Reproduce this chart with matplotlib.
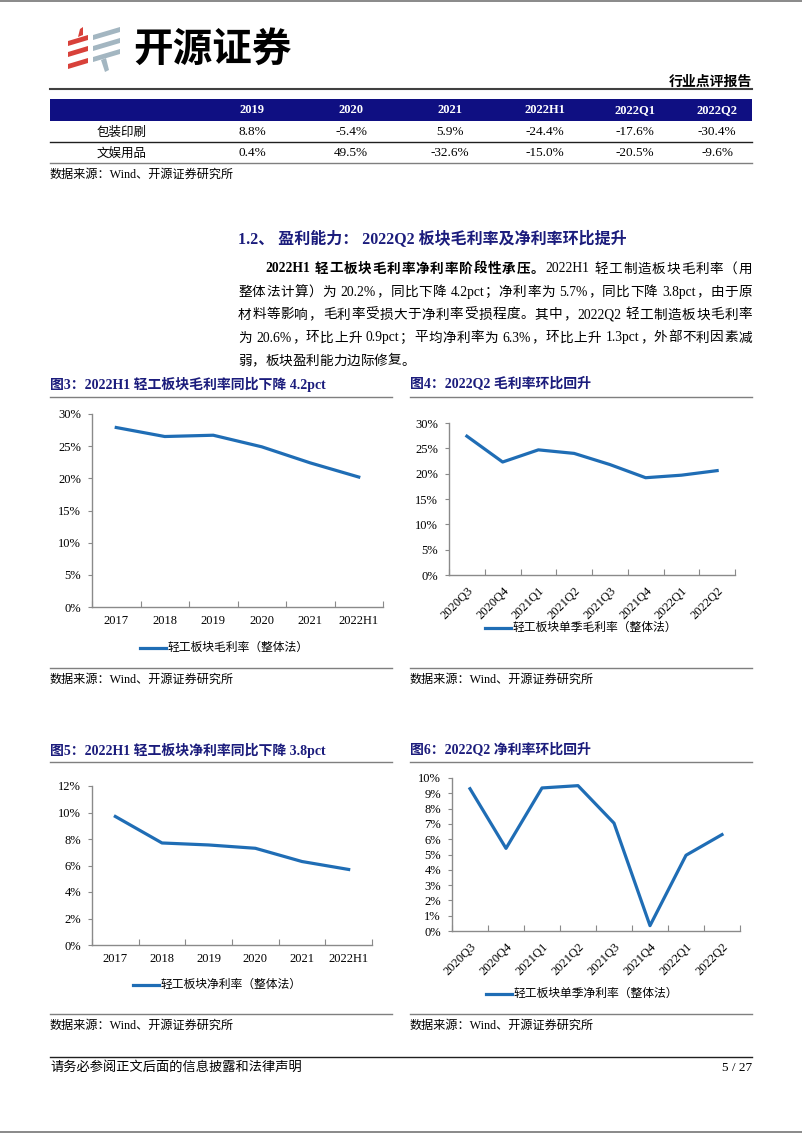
import matplotlib
matplotlib.use('Agg')
import matplotlib.pyplot as plt
from matplotlib.lines import Line2D
from matplotlib.patches import Polygon, Rectangle
from matplotlib.ticker import FuncFormatter, MultipleLocator
import numpy as np

# ---------------- data ----------------
table_cols = ['2019', '2020', '2021', '2022H1', '2022Q1', '2022Q2']
table_rows = ['包装印刷', '文娱用品']
packaging_growth = [8.8, -5.4, 5.9, -24.4, -17.6, -30.4]
stationery_growth = [0.4, 49.5, -32.6, -15.0, -20.5, -9.6]

years = ['2017', '2018', '2019', '2020', '2021', '2022H1']
quarters = ['2020Q3', '2020Q4', '2021Q1', '2021Q2', '2021Q3', '2021Q4', '2022Q1', '2022Q2']
gross_annual = [27.9, 26.5, 26.7, 24.9, 22.4, 20.2]
gross_quarter = [27.4, 22.3, 24.7, 24.0, 21.8, 19.2, 19.7, 20.6]
net_annual = [9.7, 7.7, 7.55, 7.3, 6.3, 5.7]
net_quarter = [9.3, 5.4, 9.35, 9.5, 7.05, 0.35, 4.95, 6.3]

legend_gross_annual = '轻工板块毛利率（整体法）'
legend_gross_quarter = '轻工板块单季毛利率（整体法）'
legend_net_annual = '轻工板块净利率（整体法）'
legend_net_quarter = '轻工板块单季净利率（整体法）'

# ---------------- setup ----------------
plt.rcParams['font.family'] = ['Liberation Serif', 'Noto Sans CJK SC']
W, H = 802, 1133
fig = plt.figure(figsize=(W / 100, H / 100), dpi=100)
fig.patch.set_facecolor('white')

NAVY = '#1b1c7c'
BAND = '#0f0f82'
BLUE = '#1f6db5'
GREY = '#7f7f7f'


def fx(x):
    return x / W


def fy(y):
    return 1 - y / H


def hline(x0, x1, y, color=GREY, lw=1.0):
    fig.add_artist(Line2D([fx(x0), fx(x1)], [fy(y), fy(y)], color=color, lw=lw,
                          transform=fig.transFigure))


def txt(x, y, s, size=9, color='black', ha='left', va='center', weight='normal', **kw):
    return fig.text(fx(x), fy(y), s, fontsize=size, color=color, ha=ha, va=va,
                    fontweight=weight, **kw)


# page edge lines
fig.add_artist(Rectangle((0, fy(2)), 1, 2 / H, transform=fig.transFigure, color='#8c8c8c', lw=0))
fig.add_artist(Rectangle((0, 0), 1, 2 / H, transform=fig.transFigure, color='#8c8c8c', lw=0))

# ---------------- logo ----------------
RED = '#d8413a'
LGREY = '#a3b6c1'


def poly(pts, color):
    fig.add_artist(Polygon([(fx(a), fy(b)) for a, b in pts], closed=True,
                           transform=fig.transFigure, color=color, lw=0))


def bar(xl, xr, yb, rise, thick, color):
    poly([(xl, yb), (xr, yb - rise), (xr, yb - rise - thick), (xl, yb - thick)], color)


for yb in (46, 57, 69):
    bar(68, 88, yb, 6, 5, RED)
poly([(78, 37), (83, 35), (83, 27), (80, 29)], RED)
for yb in (40, 51, 62):
    bar(93, 120, yb, 8, 5, LGREY)
poly([(101, 60), (106, 58), (109, 70), (105, 72)], LGREY)
txt(133, 49, '开源证券', size=28.5, weight='bold', family=['Noto Sans CJK SC'])

txt(752, 82, '行业点评报告', size=10, weight='bold', ha='right', family=['Noto Sans CJK SC'])
hline(50, 752, 89, color='#404040', lw=1.5)

# ---------------- table ----------------
col_x = [252, 351, 450, 545, 635, 717]
fig.add_artist(Rectangle((fx(50), fy(121)), fx(752) - fx(50), 22 / H,
                         transform=fig.transFigure, color=BAND, lw=0))
for cx, c in zip(col_x, table_cols):
    txt(cx, 110, c, size=9, color='white', weight='bold', ha='center')
rows_vals = [packaging_growth, stationery_growth]
for ry, name, vals in zip((132, 153), table_rows, rows_vals):
    txt(122, ry, name, size=9, ha='center', family=['Noto Sans CJK SC'])
    for cx, v in zip(col_x, vals):
        txt(cx, ry, f'{v:.1f}%', size=9.5, ha='center')
hline(50, 752, 142, color='#202020', lw=1.0)
hline(50, 752, 163, color=GREY, lw=1.0)
txt(50, 175, '数据来源：Wind、开源证券研究所', size=8.7)

# ---------------- section title & paragraph ----------------
txt(238, 240, '1.2、 盈利能力： 2022Q2 板块毛利率及净利率环比提升', size=11.5,
    color=NAVY, weight='bold')

renderer = fig.canvas.get_renderer()
BODY = 9.8


def tokenize(s):
    toks, buf = [], ''
    for ch in s:
        if ch == ' ':
            if buf:
                toks.append(buf)
                buf = ''
            toks.append(' ')
        elif ord(ch) < 128:
            buf += ch
        else:
            if buf:
                toks.append(buf)
                buf = ''
            toks.append(ch)
    if buf:
        toks.append(buf)
    return toks


def draw_line(segments, x0, x1, y, justify=True, size=BODY):
    em = size * 100 / 72
    items = []
    for s, wgt in segments:
        for t in tokenize(s):
            items.append((t, wgt))
    objs = []
    widths = []
    for t, wgt in items:
        if t == ' ':
            objs.append(None)
            widths.append(em * 0.25)
            continue
        o = fig.text(0, fy(y + 4.5), t, fontsize=size, fontweight=wgt, ha='left', va='baseline')
        if len(t) == 1 and ord(t) >= 128:
            w = em
        else:
            w = o.get_window_extent(renderer).width
        objs.append(o)
        widths.append(w)
    total = sum(widths)
    gap = (x1 - x0 - total) / max(len(items) - 1, 1) if justify else 0.0
    x = x0
    for o, w in zip(objs, widths):
        if o is not None:
            o.set_x(fx(x))
        x += w + gap


para = [
    ([('2022H1 轻工板块毛利率净利率阶段性承压。', 'bold'), ('2022H1 轻工制造板块毛利率（用', 'normal')], 265, True),
    ([('整体法计算）为 20.2%，同比下降 4.2pct；净利率为 5.7%，同比下降 3.8pct，由于原', 'normal')], 238, True),
    ([('材料等影响，毛利率受损大于净利率受损程度。其中，2022Q2 轻工制造板块毛利率', 'normal')], 238, True),
    ([('为 20.6%，环比上升 0.9pct；平均净利率为 6.3%，环比上升 1.3pct，外部不利因素减', 'normal')], 238, True),
    ([('弱，板块盈利能力边际修复。', 'normal')], 238, False),
]
for i, (segs, x0, just) in enumerate(para):
    draw_line(segs, x0, 752, 268 + 23 * i, justify=just)


# ---------------- charts ----------------
def make_chart(box, cats, vals, ymax, ystep, rotate):
    x0, x1, ytop, ybot = box
    ax = fig.add_axes([fx(x0), fy(ybot), fx(x1) - fx(x0), (ybot - ytop) / H])
    n = len(cats)
    xs = np.arange(n)
    ax.plot(xs, vals, color=BLUE, lw=2.3, solid_joinstyle='round')
    ax.set_xlim(-0.5, n - 0.5)
    ax.set_ylim(0, ymax)
    ax.yaxis.set_major_locator(MultipleLocator(ystep))
    ax.yaxis.set_major_formatter(FuncFormatter(lambda v, p: f'{v:.0f}%'))
    for s in ('top', 'right'):
        ax.spines[s].set_visible(False)
    for s in ('left', 'bottom'):
        ax.spines[s].set_color('#8a8a8a')
        ax.spines[s].set_linewidth(1.0)
    ax.set_xticks(np.arange(n + 1) - 0.5)
    ax.set_xticklabels([])
    ax.set_xticks(xs, minor=True)
    if rotate:
        ax.set_xticklabels(cats, minor=True, rotation=45, ha='right', rotation_mode='anchor')
        ax.tick_params(axis='x', which='minor', length=0, pad=7, labelsize=9)
    else:
        ax.set_xticklabels(cats, minor=True)
        ax.tick_params(axis='x', which='minor', length=0, pad=6, labelsize=9)
    ax.tick_params(axis='x', which='major', direction='in', length=4, color='#8a8a8a')
    ax.tick_params(axis='y', direction='out', length=3, color='#8a8a8a', labelsize=9, pad=5)
    ax.set_facecolor('none')
    return ax


def legend(x0, y, label):
    fig.add_artist(Line2D([fx(x0), fx(x0 + 26)], [fy(y), fy(y)], color=BLUE, lw=2.3,
                          transform=fig.transFigure))
    txt(x0 + 28, y, label, size=8.5)


# chart 3
txt(50, 384, '图3：2022H1 轻工板块毛利率同比下降 4.2pct', size=10, color=NAVY, weight='bold')
hline(50, 392, 397)
make_chart((92, 383, 414, 607), years, gross_annual, 30, 5, False)
legend(140, 648, legend_gross_annual)
hline(50, 392, 668)
txt(50, 680, '数据来源：Wind、开源证券研究所', size=8.7)

# chart 4
txt(410, 384, '图4：2022Q2 毛利率环比回升', size=10, color=NAVY, weight='bold')
hline(410, 752, 397)
make_chart((449, 735, 423, 575), quarters, gross_quarter, 30, 5, True)
legend(485, 628, legend_gross_quarter)
hline(410, 752, 668)
txt(410, 680, '数据来源：Wind、开源证券研究所', size=8.7)

# chart 5
txt(50, 750, '图5：2022H1 轻工板块净利率同比下降 3.8pct', size=10, color=NAVY, weight='bold')
hline(50, 392, 762)
make_chart((92, 372, 786, 945), years, net_annual, 12, 2, False)
legend(133, 985, legend_net_annual)
hline(50, 392, 1014)
txt(50, 1026, '数据来源：Wind、开源证券研究所', size=8.7)

# chart 6
txt(410, 750, '图6：2022Q2 净利率环比回升', size=10, color=NAVY, weight='bold')
hline(410, 752, 762)
make_chart((452, 740, 778, 931), quarters, net_quarter, 10, 1, True)
legend(486, 994, legend_net_quarter)
hline(410, 752, 1014)
txt(410, 1026, '数据来源：Wind、开源证券研究所', size=8.7)

# ---------------- footer ----------------
hline(50, 752, 1057, color='#202020', lw=1.0)
txt(50, 1068, '请务必参阅正文后面的信息披露和法律声明', size=9.5)
txt(752, 1068, '5 / 27', size=9.5, ha='right')

fig.savefig('out.png', dpi=100, facecolor='white')
